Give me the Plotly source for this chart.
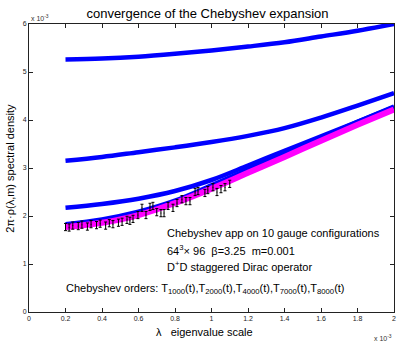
import plotly.graph_objects as go

# lambda grid (units of 1e-3) for the Chebyshev curves
lam = [0.2, 0.4, 0.6, 0.8, 1.0, 1.2, 1.4, 1.6, 1.8, 2.0]
# spectral density (units of 1e-3) for each expansion order
t1000 = [5.26, 5.28, 5.32, 5.38, 5.45, 5.53, 5.62, 5.74, 5.86, 6.0]
t2000 = [3.15, 3.23, 3.33, 3.43, 3.54, 3.67, 3.83, 4.05, 4.30, 4.56]
t4000 = [2.17, 2.25, 2.36, 2.52, 2.75, 3.05, 3.36, 3.66, 3.96, 4.27]
t7000 = [1.83, 1.93, 2.09, 2.32, 2.64, 2.97, 3.30, 3.63, 3.96, 4.28]
t8000 = [1.77, 1.86, 2.02, 2.27, 2.57, 2.90, 3.23, 3.57, 3.90, 4.22]

# measured points with error bars
pts_x = [0.20, 0.22, 0.24, 0.27, 0.29, 0.32, 0.34, 0.37, 0.39, 0.42, 0.44, 0.46,
         0.49, 0.51, 0.537, 0.553, 0.57, 0.597, 0.619, 0.641, 0.663, 0.679, 0.70,
         0.723, 0.74, 0.762, 0.789, 0.811, 0.838, 0.86, 0.882, 0.91, 0.926, 0.964,
         0.98, 1.008, 1.03, 1.052, 1.074, 1.10]
pts_y = [1.77, 1.76, 1.80, 1.79, 1.82, 1.78, 1.83, 1.81, 1.84, 1.80, 1.85, 1.83,
         1.86, 1.88, 1.92, 1.90, 1.94, 2.02, 2.17, 2.02, 2.19, 2.21, 2.08,
         2.06, 2.06, 2.21, 2.17, 2.27, 2.35, 2.31, 2.31, 2.50, 2.52, 2.48,
         2.54, 2.60, 2.50, 2.56, 2.60, 2.67]
pts_err = 0.075

FONT = 'Liberation Sans'

fig = go.Figure()
for ys in [t1000, t2000, t4000, t7000]:
    fig.add_trace(go.Scatter(x=lam, y=ys, mode='lines', line=dict(color='#0000ff', width=4.5, shape='spline')))
fig.add_trace(go.Scatter(x=lam, y=t8000, mode='lines', line=dict(color='#ff00ff', width=6, shape='spline')))
fig.add_trace(go.Scatter(x=pts_x, y=pts_y, mode='markers', marker=dict(size=1, color='black'),
                         error_y=dict(type='constant', value=pts_err, color='black', thickness=1, width=1.5)))

ann_font = dict(family=FONT, size=11, color='black')
notes = [
    (0.745, 1.65, "Chebyshev app on 10 gauge configurations"),
    (0.745, 1.3, "64<sup>3</sup>× 96  β=3.25  m=0.001"),
    (0.745, 0.96, "D<sup>+</sup>D staggered Dirac operator"),
    (0.19, 0.47, "Chebyshev orders: T<sub>1000</sub>(t),T<sub>2000</sub>(t),T<sub>4000</sub>(t),T<sub>7000</sub>(t),T<sub>8000</sub>(t)"),
]
for x, y, t in notes:
    fig.add_annotation(x=x, y=y, text=t, showarrow=False, xanchor='left', font=ann_font)

small = dict(family=FONT, size=7, color='#333')
fig.add_annotation(x=0, y=1.0, xref='paper', yref='paper', text="x 10<sup>-3</sup>", showarrow=False,
                   xanchor='left', yanchor='bottom', font=small)
fig.add_annotation(x=1, y=-0.07, xref='paper', yref='paper', text="x 10<sup>-3</sup>", showarrow=False,
                   xanchor='right', yanchor='top', font=small)
# axis titles placed as annotations
fig.add_annotation(x=0.48, y=-0.042, xref='paper', yref='paper', text="λ   eigenvalue scale", showarrow=False,
                   xanchor='center', yanchor='top', font=ann_font)
fig.add_annotation(x=-0.053, y=0.5, xref='paper', yref='paper', text="2π·ρ(λ,m) spectral density", showarrow=False,
                   textangle=-90, xanchor='center', yanchor='middle', font=ann_font)

axis_common = dict(showgrid=False, zeroline=False, mirror='ticks', showline=True, linecolor='#222',
                   linewidth=1, ticks='inside', ticklen=4, tickcolor='#222', automargin=False,
                   tickfont=dict(family=FONT, size=7, color='#222'))
fig.update_xaxes(range=[0, 2], tickvals=[0, 0.2, 0.4, 0.6, 0.8, 1.0, 1.2, 1.4, 1.6, 1.8, 2.0],
                 ticktext=['0', '0.2', '0.4', '0.6', '0.8', '1', '1.2', '1.4', '1.6', '1.8', '2'],
                 **axis_common)
fig.update_yaxes(range=[0, 6], tickvals=[0, 1, 2, 3, 4, 5, 6], **axis_common)
fig.update_layout(width=399, height=347, showlegend=False, plot_bgcolor='white', paper_bgcolor='white',
                  margin=dict(l=29, r=5, t=24, b=35), hovermode=False,
                  title=dict(text="convergence of the Chebyshev expansion", x=0.52, xanchor='center', y=0.962,
                             yanchor='middle', font=dict(family=FONT, size=13, color='black')))
fig.write_html("out.html", config={'displayModeBar': False},
               post_script="document.body.style.margin='0';")
